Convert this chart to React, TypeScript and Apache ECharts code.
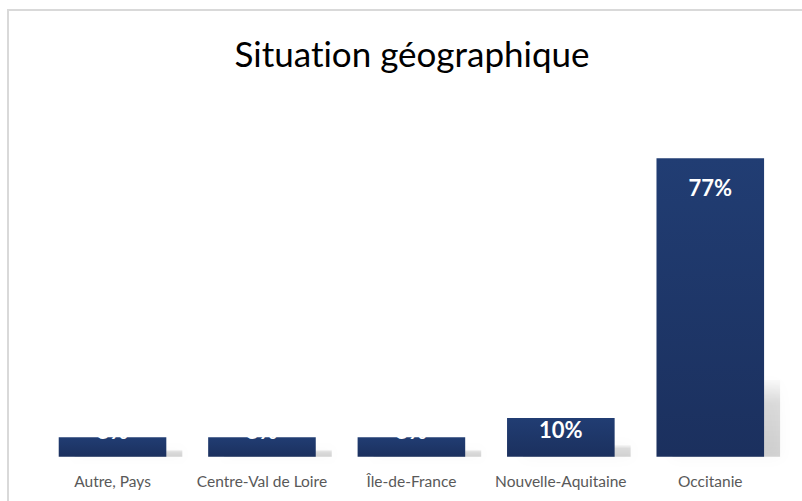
import React, { useEffect, useRef } from "react";
import * as echarts from "echarts";

const categories = ["Autre, Pays", "Centre-Val de Loire", "Île-de-France", "Nouvelle-Aquitaine", "Occitanie"];
const values = [5, 5, 5, 10, 77];
const titleText = "Situation géographique";

export default function App() {
  const ref = useRef<HTMLDivElement>(null);
  useEffect(() => {
    const chart = echarts.init(ref.current!, null, { renderer: "svg" });
    const maxV = Math.max(...values);
    const labelDist = (v: number) => (v === maxV ? 18 : v >= 10 ? 1 : -18);
    const option: any = {
      animation: false,
      backgroundColor: "#ffffff",
      title: {
        text: titleText,
        left: 407,
        top: 30,
        textAlign: "center",
        textStyle: { fontFamily: "Lato", fontSize: 35, fontWeight: "normal", color: "#000000" },
      },
      graphic: [
        {
          type: "rect",
          shape: { x: 8, y: 10, width: 830, height: 530 },
          style: { fill: "none", stroke: "#d9d9d9", lineWidth: 2 },
          silent: true,
          z: 100,
        },
      ],
      grid: { left: 37.8, right: 17, top: 146.7, height: 310, containLabel: false },
      xAxis: {
        type: "category",
        data: categories,
        axisLine: { show: false },
        axisTick: { show: false },
        axisLabel: { color: "#595959", fontFamily: "Lato", fontSize: 15.5, margin: 16, interval: 0 },
      },
      yAxis: { type: "value", min: 0, max: 80, show: false, splitLine: { show: false } },
      series: [
        {
          type: "custom",
          z: 1,
          silent: true,
          data: values.map((v, i) => [i, v]),
          renderItem: (params: any, api: any) => {
            const top = api.coord([api.value(0), api.value(1)]);
            const base = api.coord([api.value(0), 0]);
            const w = api.size([1, 0])[0] * 0.72;
            const h = base[1] - top[1];
            const sh = Math.min(h, h * 0.25 + 2);
            return {
              type: "rect",
              shape: { x: top[0] - w / 2 + 16, y: base[1] - sh, width: w, height: sh },
              style: {
                fill: new echarts.graphic.LinearGradient(0, 0, 0, 1, [
                  { offset: 0, color: "rgba(0,0,0,0.02)" },
                  { offset: 0.3, color: "rgba(0,0,0,0.13)" },
                  { offset: 1, color: "rgba(0,0,0,0.17)" },
                ]),
                shadowBlur: 14,
                shadowColor: "rgba(0,0,0,0.2)",
              },
            };
          },
        },
        {
          type: "bar",
          z: 2,
          barWidth: "72%",
          data: values.map((v) => ({
            value: v,
            label: { distance: labelDist(v) },
          })),
          itemStyle: {
            color: new echarts.graphic.LinearGradient(0, 0, 0, 1, [
              { offset: 0, color: "#213d73" },
              { offset: 1, color: "#1b305e" },
            ]),
          },
          label: {
            show: true,
            position: "insideTop",
            formatter: "{c}%",
            color: "#ffffff",
            fontFamily: "Lato",
            fontWeight: "bold",
            fontSize: 22,
          },
        },
      ],
    };
    chart.setOption(option);
    return () => chart.dispose();
  }, []);
  return (
    <>
      <style>{"svg text { font-variant-ligatures: none; font-feature-settings: 'liga' 0; }"}</style>
      <div
        ref={ref}
        style={{ position: "absolute", left: 0, top: 0, width: 802, height: 501 }}
      />
    </>
  );
}
